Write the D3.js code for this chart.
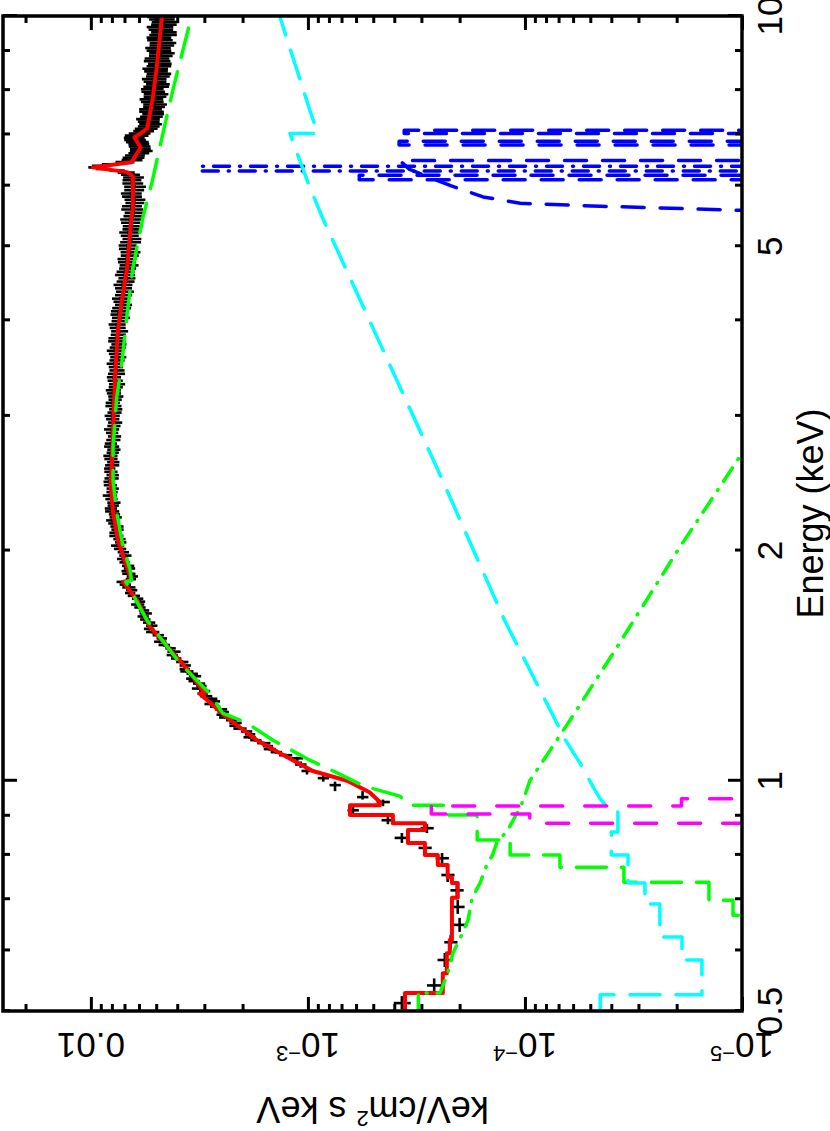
<!DOCTYPE html>
<html>
<head>
<meta charset="utf-8">
<script src="https://cdn.jsdelivr.net/npm/d3@7"></script>
<style>
  body { margin: 0; background: #fff; }
  text { font-family: "Liberation Sans", Arial, Helvetica, sans-serif; fill: #000; }
</style>
</head>
<body>
<div id="dv"></div>
<script>
// ---- spectrum: energy (keV), flux (keV^2/cm^2 s keV) ----
var dataE = [0.512, 0.540, 0.583, 0.615, 0.648, 0.684, 0.719, 0.753, 0.792, 0.817,
  0.842, 0.867, 0.888, 0.915, 0.938, 0.952, 0.987, 1.008, 1.03, 1.05, 1.07,
  1.08, 1.09, 1.10, 1.11, 1.12, 1.13, 1.14, 1.15, 1.16, 1.17,
  1.18, 1.19, 1.20, 1.21, 1.22, 1.23, 1.24, 1.25, 1.26, 1.27,
  1.28, 1.29, 1.30, 1.31, 1.32, 1.33, 1.34, 1.35, 1.36, 1.37,
  1.38, 1.39, 1.40, 1.415, 1.43, 1.445, 1.46, 1.475, 1.49, 1.505,
  1.52, 1.535, 1.55, 1.565, 1.58, 1.595, 1.61, 1.625, 1.64, 1.655,
  1.67, 1.685, 1.70, 1.715, 1.73, 1.745, 1.76, 1.775, 1.79, 1.805,
  1.82, 1.835, 1.85, 1.865, 1.88, 1.895, 1.91, 1.93, 1.95, 1.97,
  1.99, 2.01, 2.03, 2.05, 2.07, 2.09, 2.11, 2.13, 2.15, 2.17,
  2.19, 2.21, 2.23, 2.25, 2.27, 2.29, 2.31, 2.335, 2.36, 2.385,
  2.41, 2.435, 2.46, 2.485, 2.51, 2.535, 2.56, 2.585, 2.61, 2.635,
  2.66, 2.685, 2.71, 2.735, 2.76, 2.79, 2.82, 2.85, 2.88, 2.91,
  2.94, 2.97, 3.00, 3.03, 3.06, 3.09, 3.12, 3.15, 3.18, 3.21,
  3.24, 3.27, 3.30, 3.335, 3.37, 3.405, 3.44, 3.475, 3.51, 3.545,
  3.58, 3.615, 3.65, 3.685, 3.72, 3.755, 3.79, 3.83, 3.87, 3.91,
  3.95, 3.99, 4.03, 4.07, 4.11, 4.15, 4.19, 4.23, 4.27, 4.315,
  4.36, 4.405, 4.45, 4.495, 4.54, 4.585, 4.63, 4.675, 4.72, 4.765,
  4.81, 4.86, 4.91, 4.96, 5.01, 5.06, 5.11, 5.16, 5.21, 5.26,
  5.31, 5.365, 5.42, 5.475, 5.53, 5.585, 5.64, 5.695, 5.75, 5.805,
  5.86, 5.92, 5.98, 6.04, 6.10, 6.15, 6.20, 6.24, 6.28, 6.31,
  6.34, 6.37, 6.40, 6.44, 6.48, 6.525, 6.57, 6.615, 6.66, 6.705,
  6.75, 6.795, 6.84, 6.885, 6.93, 6.975, 7.02, 7.07, 7.12, 7.17,
  7.22, 7.275, 7.33, 7.385, 7.44, 7.495, 7.55, 7.605, 7.66, 7.72,
  7.78, 7.84, 7.90, 7.96, 8.02, 8.08, 8.14, 8.205, 8.27, 8.335,
  8.40, 8.465, 8.53, 8.595, 8.66, 8.73, 8.80, 8.87, 8.94, 9.01,
  9.08, 9.15, 9.22, 9.295, 9.37, 9.445, 9.52, 9.595, 9.67, 9.745,
  9.82, 9.895, 9.97];
var dataF = [3.69e-4, 2.62e-4, 2.34e-4, 2.2e-4, 2.0e-4, 2.04e-4, 2.06e-4, 2.27e-4, 2.41e-4, 2.89e-4,
  3.69e-4, 2.83e-4, 4.28e-4, 6.2e-4, 4.51e-4, 5.6e-4, 7.5e-4, 8.5e-4, 1.01e-3, 1.08e-3, 1.12e-3,
  1.27e-3, 1.40e-3, 1.50e-3, 1.53e-3, 1.60e-3, 1.74e-3, 1.86e-3, 1.85e-3, 1.92e-3, 2.06e-3,
  2.18e-3, 2.16e-3, 2.25e-3, 2.40e-3, 2.50e-3, 2.46e-3, 2.52e-3, 2.68e-3, 2.80e-3, 2.70e-3,
  2.78e-3, 2.95e-3, 3.06e-3, 3.00e-3, 3.20e-3, 3.10e-3, 3.18e-3, 3.35e-3, 3.45e-3, 3.32e-3,
  3.42e-3, 3.62e-3, 3.70e-3, 3.68e-3, 3.80e-3, 4.05e-3, 4.22e-3, 4.15e-3, 4.30e-3, 4.60e-3,
  4.80e-3, 4.72e-3, 4.90e-3, 5.20e-3, 5.40e-3, 5.25e-3, 5.40e-3, 5.62e-3, 5.75e-3, 5.60e-3,
  5.70e-3, 5.95e-3, 6.10e-3, 5.95e-3, 6.10e-3, 6.35e-3, 6.60e-3, 6.50e-3, 6.70e-3, 6.95e-3,
  7.15e-3, 6.55e-3, 6.45e-3, 6.70e-3, 6.85e-3, 6.65e-3, 6.75e-3, 7.00e-3, 7.15e-3, 6.95e-3,
  7.10e-3, 7.35e-3, 7.55e-3, 7.30e-3, 7.40e-3, 7.65e-3, 7.75e-3, 7.55e-3, 7.60e-3, 7.85e-3,
  7.95e-3, 7.70e-3, 7.80e-3, 8.00e-3, 8.10e-3, 7.90e-3, 7.85e-3, 8.05e-3, 8.20e-3, 8.00e-3,
  7.95e-3, 8.15e-3, 8.25e-3, 8.05e-3, 7.95e-3, 8.10e-3, 8.20e-3, 8.00e-3, 7.90e-3, 8.10e-3,
  8.15e-3, 7.95e-3, 7.85e-3, 8.05e-3, 8.10e-3, 7.90e-3, 7.80e-3, 8.00e-3, 8.05e-3, 7.85e-3,
  7.75e-3, 7.95e-3, 8.00e-3, 7.80e-3, 7.70e-3, 7.90e-3, 7.95e-3, 7.75e-3, 7.70e-3, 7.85e-3,
  7.90e-3, 7.70e-3, 7.60e-3, 7.75e-3, 7.85e-3, 7.65e-3, 7.60e-3, 7.70e-3, 7.80e-3, 7.60e-3,
  7.50e-3, 7.65e-3, 7.75e-3, 7.55e-3, 7.45e-3, 7.60e-3, 7.65e-3, 7.50e-3, 7.40e-3, 7.55e-3,
  7.60e-3, 7.40e-3, 7.30e-3, 7.45e-3, 7.45e-3, 7.25e-3, 7.10e-3, 7.25e-3, 7.30e-3, 7.10e-3,
  7.00e-3, 7.10e-3, 7.15e-3, 6.95e-3, 6.85e-3, 7.00e-3, 6.95e-3, 6.80e-3, 6.70e-3, 6.85e-3,
  6.85e-3, 6.65e-3, 6.60e-3, 6.75e-3, 6.80e-3, 6.60e-3, 6.50e-3, 6.65e-3, 6.70e-3, 6.50e-3,
  6.45e-3, 6.60e-3, 6.60e-3, 6.40e-3, 6.35e-3, 6.50e-3, 6.50e-3, 6.30e-3, 6.30e-3, 6.50e-3,
  6.55e-3, 6.35e-3, 6.30e-3, 6.45e-3, 6.50e-3, 6.40e-3, 6.60e-3, 6.90e-3, 7.60e-3, 8.80e-3,
  9.60e-3, 9.20e-3, 8.20e-3, 7.00e-3, 6.50e-3, 6.40e-3, 6.30e-3, 6.05e-3, 5.90e-3, 5.95e-3,
  6.00e-3, 6.05e-3, 6.15e-3, 6.30e-3, 6.35e-3, 6.20e-3, 6.00e-3, 5.75e-3, 5.60e-3, 5.45e-3,
  5.35e-3, 5.45e-3, 5.50e-3, 5.30e-3, 5.20e-3, 5.30e-3, 5.35e-3, 5.15e-3, 5.10e-3, 5.25e-3,
  5.30e-3, 5.10e-3, 5.05e-3, 5.20e-3, 5.25e-3, 5.05e-3, 4.95e-3, 5.10e-3, 5.15e-3, 4.95e-3,
  4.90e-3, 5.05e-3, 5.10e-3, 4.90e-3, 4.85e-3, 5.00e-3, 5.00e-3, 4.80e-3, 4.75e-3, 4.90e-3,
  4.95e-3, 4.75e-3, 4.70e-3, 4.85e-3, 4.90e-3, 4.70e-3, 4.65e-3, 4.80e-3, 4.85e-3, 4.65e-3,
  4.60e-3, 4.75e-3, 4.80e-3];
// fractional flux errors
var dataErr = [0.09, 0.08, 0.08, 0.07, 0.08, 0.07, 0.07, 0.07, 0.07, 0.07,
  0.08, 0.07, 0.07, 0.06, 0.07, 0.06, 0.06, 0.06, 0.06, 0.06, 0.06,
  0.07, 0.06, 0.065, 0.055, 0.07, 0.06, 0.065, 0.055, 0.06, 0.07,
  0.055, 0.065, 0.06, 0.07, 0.055, 0.06, 0.065, 0.055, 0.07, 0.06,
  0.06, 0.065, 0.055, 0.06, 0.07, 0.055, 0.065, 0.06, 0.055, 0.065,
  0.06, 0.07, 0.055, 0.06, 0.065, 0.055, 0.06, 0.07, 0.055, 0.06,
  0.065, 0.055, 0.06, 0.07, 0.055, 0.06, 0.065, 0.055, 0.06, 0.065,
  0.055, 0.06, 0.07, 0.055, 0.06, 0.065, 0.055, 0.06, 0.07, 0.06,
  0.065, 0.055, 0.06, 0.07, 0.055, 0.06, 0.065, 0.055, 0.06, 0.065,
  0.06, 0.065, 0.07, 0.06, 0.065, 0.075, 0.06, 0.065, 0.07, 0.06,
  0.07, 0.065, 0.06, 0.075, 0.065, 0.06, 0.07, 0.065, 0.075, 0.06,
  0.065, 0.07, 0.06, 0.075, 0.065, 0.07, 0.06, 0.075, 0.065, 0.07,
  0.075, 0.065, 0.07, 0.08, 0.065, 0.075, 0.07, 0.065, 0.08, 0.07,
  0.075, 0.07, 0.08, 0.075, 0.07, 0.085, 0.075, 0.07, 0.08, 0.075,
  0.08, 0.075, 0.085, 0.08, 0.075, 0.09, 0.08, 0.075, 0.085, 0.08,
  0.085, 0.08, 0.09, 0.085, 0.08, 0.095, 0.085, 0.08, 0.09, 0.085,
  0.09, 0.085, 0.095, 0.09, 0.085, 0.1, 0.09, 0.085, 0.095, 0.09,
  0.095, 0.09, 0.1, 0.095, 0.09, 0.105, 0.095, 0.09, 0.1, 0.095,
  0.1, 0.095, 0.105, 0.1, 0.095, 0.11, 0.1, 0.095, 0.105, 0.1,
  0.105, 0.1, 0.11, 0.105, 0.1, 0.115, 0.105, 0.1, 0.11, 0.105,
  0.11, 0.105, 0.115, 0.11, 0.1, 0.11, 0.1, 0.09, 0.08, 0.075,
  0.07, 0.075, 0.085, 0.1, 0.11, 0.115, 0.105, 0.11, 0.12, 0.11,
  0.115, 0.11, 0.12, 0.115, 0.11, 0.125, 0.115, 0.11, 0.12, 0.115,
  0.12, 0.115, 0.125, 0.12, 0.115, 0.13, 0.12, 0.115, 0.125, 0.12,
  0.125, 0.12, 0.13, 0.125, 0.12, 0.135, 0.125, 0.12, 0.13, 0.125,
  0.13, 0.125, 0.135, 0.13, 0.125, 0.14, 0.13, 0.125, 0.135, 0.13,
  0.135, 0.13, 0.14, 0.135, 0.13, 0.145, 0.135, 0.13, 0.14, 0.135,
  0.14, 0.135, 0.145];

// total model (red)
var modelE = [0.50, 0.528, 0.528, 0.56, 0.56, 0.595, 0.595, 0.619, 0.619, 0.703,
  0.703, 0.735, 0.735, 0.748, 0.748, 0.776, 0.776, 0.80, 0.80, 0.829,
  0.829, 0.862, 0.862, 0.880, 0.880, 0.902, 0.902, 0.929, 0.929, 0.938,
  0.966, 1.0, 1.03, 1.074, 1.13, 1.21, 1.30, 1.30, 1.40, 1.50,
  1.59, 1.72, 1.82, 1.83, 1.90, 2.06, 2.24, 2.45, 2.60, 2.87,
  3.34, 3.88, 4.25, 4.69, 5.46, 5.62, 6.17, 6.25, 6.34, 6.44,
  6.53, 6.73, 6.94, 7.02, 7.13, 7.76, 8.57, 10.0];
var modelF = [3.57e-4, 3.57e-4, 2.39e-4, 2.39e-4, 2.29e-4, 2.29e-4, 2.22e-4, 2.22e-4, 2.17e-4, 2.17e-4,
  2.04e-4, 2.04e-4, 2.17e-4, 2.17e-4, 2.27e-4, 2.27e-4, 2.52e-4, 2.52e-4, 2.89e-4, 2.89e-4,
  3.46e-4, 3.46e-4, 2.89e-4, 2.89e-4, 4.06e-4, 4.06e-4, 6.4e-4, 6.4e-4, 4.66e-4, 4.66e-4,
  5.2e-4, 6.6e-4, 9.5e-4, 1.25e-3, 1.72e-3, 2.36e-3, 3.15e-3, 2.98e-3, 3.6e-3, 4.46e-3,
  5.35e-3, 6.1e-3, 7.1e-3, 6.5e-3, 6.8e-3, 7.5e-3, 7.9e-3, 8.1e-3, 8.0e-3, 7.9e-3,
  7.75e-3, 7.5e-3, 7.2e-3, 6.8e-3, 6.5e-3, 6.4e-3, 6.4e-3, 6.8e-3, 9.8e-3, 6.5e-3,
  6.3e-3, 5.9e-3, 6.3e-3, 5.9e-3, 5.5e-3, 5.2e-3, 4.97e-3, 4.7e-3];

// absorbed power law (green dashed)
var contE = [0.50, 0.667, 0.667, 0.698, 0.698, 0.737, 0.737, 0.771, 0.771, 0.80,
  0.80, 0.837, 0.837, 0.902, 0.902, 0.929, 0.929, 0.955, 0.984, 1.027,
  1.064, 1.13, 1.19, 1.226, 1.30, 1.425, 1.62, 1.82, 1.83, 1.89,
  2.02, 2.24, 2.47, 2.73, 3.17, 3.52, 4.09, 4.69, 5.46, 6.10,
  7.02, 8.0, 9.49, 10.0];
var contF = [1e-7, 5e-6, 1.1e-5, 1.1e-5, 1.42e-5, 1.42e-5, 3.5e-5, 3.5e-5, 6.9e-5, 6.9e-5,
  1.17e-4, 1.17e-4, 1.66e-4, 1.66e-4, 2.29e-4, 2.29e-4, 3.4e-4, 3.77e-4, 5.5e-4, 7.5e-4,
  9.8e-4, 1.45e-3, 1.91e-3, 2.47e-3, 2.83e-3, 3.89e-3, 5.5e-3, 6.9e-3, 6.5e-3, 6.6e-3,
  7.1e-3, 7.6e-3, 7.9e-3, 7.9e-3, 7.6e-3, 7.2e-3, 6.8e-3, 6.4e-3, 5.75e-3, 5.2e-3,
  4.66e-3, 4.19e-3, 3.6e-3, 3.43e-3];

// soft component (green dash-dot)
var softE = [0.50, 0.528, 0.528, 0.56, 0.595, 0.62, 0.657, 0.703, 0.735, 0.776,
  0.80, 0.829, 0.862, 0.902, 0.929, 0.966, 1.0, 1.2, 1.5, 2.0, 2.68, 3.0];
var softF = [3.1e-4, 3.1e-4, 2.46e-4, 2.27e-4, 2.15e-4, 2.0e-4, 1.83e-4, 1.75e-4, 1.61e-4, 1.50e-4,
  1.41e-4, 1.35e-4, 1.20e-4, 1.10e-4, 1.04e-4, 9.9e-5, 9.5e-5, 6.2e-5, 3.74e-5, 1.98e-5, 1.0e-5, 7.5e-6];

// reflection (cyan)
var reflE = [0.50, 0.525, 0.525, 0.583, 0.583, 0.625, 0.625, 0.69, 0.69, 0.735,
  0.735, 0.80, 0.80, 0.857, 0.857, 0.91, 0.91, 0.947, 0.972, 1.048,
  1.13, 1.62, 2.55, 5.46, 6.06, 7.02, 7.02, 7.53, 10.0];
var reflF = [4.5e-5, 4.5e-5, 1.53e-5, 1.53e-5, 1.89e-5, 1.89e-5, 2.39e-5, 2.39e-5, 2.8e-5, 2.8e-5,
  3.35e-5, 3.35e-5, 4.0e-5, 4.0e-5, 3.73e-5, 3.73e-5, 4.0e-5, 4.5e-5, 4.76e-5, 5.5e-5,
  6.5e-5, 1.24e-4, 2.52e-4, 8.6e-4, 1.0e-3, 1.21e-3, 9.0e-4, 9.8e-4, 1.35e-3];

// soft x-ray line (magenta)
var lineE = [0.85, 0.880, 0.880, 0.905, 0.905, 0.927, 0.927, 0.947, 0.947, 0.98];
var lineF = [1e-8, 1e-8, 9.5e-5, 9.5e-5, 2.7e-4, 2.7e-4, 1.9e-5, 1.9e-5, 1e-8, 1e-8];

// iron lines (blue)
var fekaE = [6.10, 6.27, 6.27, 6.36, 6.36, 6.60];
var fekaF = [1e-8, 1e-8, 3.15e-3, 3.15e-3, 1e-8, 1e-8];
var fe2E = [6.0, 6.11, 6.11, 6.19, 6.19, 6.3];
var fe2F = [1e-8, 1e-8, 5.8e-4, 5.8e-4, 1e-8, 1e-8];
var feBroadE = [5.50, 5.57, 5.64, 5.69, 5.80, 6.0, 6.15, 6.30, 6.47, 6.47, 6.6];
var feBroadF = [1e-7, 1e-5, 4.5e-5, 1.05e-4, 1.56e-4, 2.2e-4, 2.74e-4, 3.4e-4, 3.77e-4, 1e-8, 1e-8];
var fe3E = [6.70, 6.78, 6.78, 6.86, 6.86, 6.95];
var fe3F = [1e-8, 1e-8, 3.8e-4, 3.8e-4, 1e-8, 1e-8];
var fe4E = [6.95, 7.02, 7.02, 7.09, 7.09, 7.2];
var fe4F = [1e-8, 1e-8, 3.6e-4, 3.6e-4, 1e-8, 1e-8];

// axis ticks and labels
var eMajor = [1, 10];
var eMinor = [0.5, 0.6, 0.7, 0.8, 0.9, 2, 3, 4, 5, 6, 7, 8, 9];
var eLabels = [0.5, 1, 2, 5, 10];
var eLabelText = ["0.5", "1", "2", "5", "10"];
var fMajor = [1e-5, 1e-4, 1e-3, 1e-2];
var fMinor = [2e-5, 3e-5, 4e-5, 5e-5, 6e-5, 7e-5, 8e-5, 9e-5,
  2e-4, 3e-4, 4e-4, 5e-4, 6e-4, 7e-4, 8e-4, 9e-4,
  2e-3, 3e-3, 4e-3, 5e-3, 6e-3, 7e-3, 8e-3, 9e-3, 2e-2];
var fLabels = [1e-2, 1e-3, 1e-4, 1e-5];
var fLabelBase = ["0.01", "10", "10", "10"];
var fLabelExp = ["", "\u22123", "\u22124", "\u22125"];

var W = 995;
var H = 739;

var svg = d3.select("#dv")
  .append("svg")
  .attr("width", 830)
  .attr("height", 1131);

svg.append("rect").attr("width", 830).attr("height", 1131).attr("fill", "#fff");

// the plot is drawn landscape and turned a quarter turn anticlockwise
var g = svg.append("g").attr("transform", "translate(3,1011) rotate(-90)");

var x = d3.scaleLog().domain([0.5, 10]).range([0, W]);
var y = d3.scaleLog().domain([1e-5, 0.0254]).range([H, 0]);

g.append("clipPath").attr("id", "clip")
  .append("rect").attr("width", W).attr("height", H);

var plot = g.append("g").attr("clip-path", "url(#clip)");

// data crosses
var crosses = plot.append("g").attr("stroke", "#000").attr("stroke-width", 2.6);
dataE.forEach(function(e, i) {
  var u = x(e);
  var uLo = i > 0 ? (x(dataE[i - 1]) + u) / 2 : u - 6;
  var uHi = i < dataE.length - 1 ? (x(dataE[i + 1]) + u) / 2 : u + 6;
  uLo = Math.max(uLo, u - 7);
  uHi = Math.min(uHi, u + 7);
  var f = dataF[i];
  var err = dataErr[i] || 0.1;
  crosses.append("line")
    .attr("x1", uLo).attr("x2", uHi)
    .attr("y1", y(f)).attr("y2", y(f));
  crosses.append("line")
    .attr("x1", u).attr("x2", u)
    .attr("y1", y(f * (1 - err))).attr("y2", y(f * (1 + err)));
});

var line = d3.line()
  .x(function(d) { return x(d[0]); })
  .y(function(d) { return y(d[1]); });

function pairs(es, fs) {
  return es.map(function(e, i) { return [e, fs[i]]; });
}

function addCurve(es, fs, color, width, dash) {
  plot.append("path")
    .datum(pairs(es, fs))
    .attr("d", line)
    .attr("fill", "none")
    .attr("stroke", color)
    .attr("stroke-width", width)
    .attr("stroke-linecap", "round")
    .attr("stroke-linejoin", "round")
    .attr("stroke-dasharray", dash);
}

// total model
addCurve(modelE, modelF, "#ff0000", 4, null);

// components
addCurve(contE, contF, "#00ff00", 3.5, "30,15");
addCurve(softE, softF, "#00ff00", 3.5, "16,10,1,10");
addCurve(fekaE, fekaF, "#0000ff", 3.5, "16,10,1,10");
addCurve(fe2E, fe2F, "#0000ff", 3.5, "22,16");
addCurve(feBroadE, feBroadF, "#0000ff", 3.5, "22,16");
addCurve(fe3E, fe3F, "#0000ff", 3.5, "22,16");
addCurve(fe4E, fe4F, "#0000ff", 3.5, "22,16");
addCurve(reflE, reflF, "#00ffff", 3.5, "30,16");
addCurve(lineE, lineF, "#ff00ff", 3.5, "22,22");

// ticks, drawn inward on all four sides
function tickSide(axis, tf) {
  var a = g.append("g").attr("transform", tf).call(axis);
  a.select(".domain").remove();
  a.selectAll("line").attr("stroke", "#000").attr("stroke-width", 3);
  a.selectAll("text").remove();
}
[[eMajor, 14], [eMinor, 7]].forEach(function(t) {
  tickSide(d3.axisBottom(x).tickValues(t[0]).tickSize(-t[1]).tickSizeOuter(0), "translate(0," + H + ")");
  tickSide(d3.axisTop(x).tickValues(t[0]).tickSize(-t[1]).tickSizeOuter(0), "translate(0,0)");
});
[[fMajor, 14], [fMinor, 7]].forEach(function(t) {
  tickSide(d3.axisLeft(y).tickValues(t[0]).tickSize(-t[1]).tickSizeOuter(0), "translate(0,0)");
  tickSide(d3.axisRight(y).tickValues(t[0]).tickSize(-t[1]).tickSizeOuter(0), "translate(" + W + ",0)");
});

// frame
g.append("rect")
  .attr("width", W)
  .attr("height", H)
  .attr("fill", "none")
  .attr("stroke", "#000")
  .attr("stroke-width", 3.5);

// energy tick labels
g.selectAll("text.elab")
  .data(eLabels)
  .enter()
  .append("text")
  .attr("class", "elab")
  .attr("x", function(d) { return x(d); })
  .attr("y", H + 40)
  .attr("text-anchor", "middle")
  .style("font-size", "35px")
  .text(function(d, i) { return eLabelText[i]; });

// flux tick labels (vertical in the landscape frame)
fLabels.forEach(function(v, i) {
  var t = g.append("text")
    .attr("transform", "translate(-22," + y(v) + ") rotate(-90)")
    .attr("text-anchor", "middle")
    .style("font-size", "35px")
    .text(fLabelBase[i]);
  if (fLabelExp[i]) {
    t.append("tspan")
      .attr("dy", -13)
      .style("font-size", "22px")
      .text(fLabelExp[i]);
  }
});

// axis titles
g.append("text")
  .attr("x", W / 2)
  .attr("y", H + 81)
  .attr("text-anchor", "middle")
  .style("font-size", "36px")
  .text("Energy (keV)");

var yt = g.append("text")
  .attr("transform", "translate(-86," + (H / 2) + ") rotate(-90)")
  .attr("text-anchor", "middle")
  .style("font-size", "36px")
  .text("keV/cm");
yt.append("tspan").attr("dy", -14).style("font-size", "22px").text("2");
yt.append("tspan").attr("dy", 14).text(" s keV");
</script>
</body>
</html>
